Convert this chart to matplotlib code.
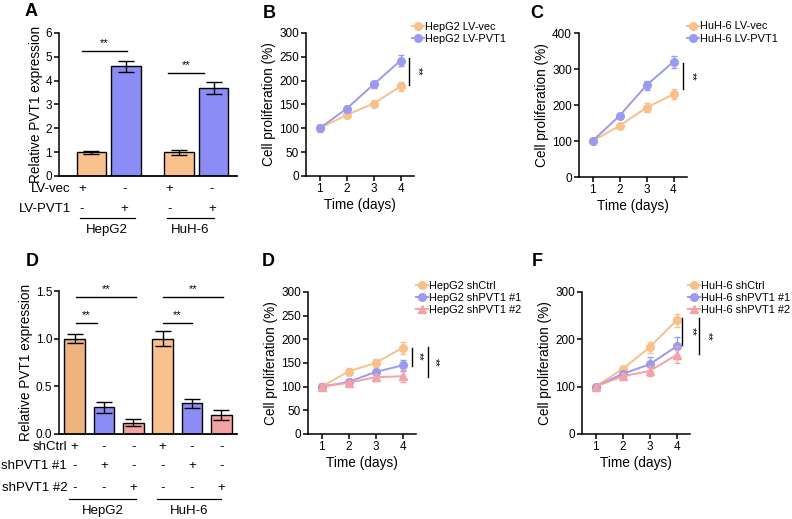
import matplotlib
matplotlib.use('Agg')
import matplotlib.pyplot as plt
import matplotlib.transforms as mtransforms

plt.rcParams['font.family'] = ['Liberation Sans', 'DejaVu Sans']
plt.rcParams['axes.linewidth'] = 1.1
plt.rcParams['xtick.major.width'] = 1.1
plt.rcParams['ytick.major.width'] = 1.1
plt.rcParams['xtick.major.size'] = 3.5
plt.rcParams['ytick.major.size'] = 3.5
plt.rcParams['xtick.labelsize'] = 8.5
plt.rcParams['ytick.labelsize'] = 8.5

# ---- data ----
# panel A: overexpression qPCR
a_values = [1.0, 4.6, 1.0, 3.7]
a_errors = [0.06, 0.22, 0.10, 0.24]
a_vec = ['+', '-', '+', '-']
a_pvt1 = ['-', '+', '-', '+']
groups = ['HepG2', 'HuH-6']

# panel D (left): knockdown qPCR
d_values = [1.0, 0.28, 0.12, 1.0, 0.32, 0.20]
d_errors = [0.05, 0.06, 0.04, 0.08, 0.05, 0.05]
d_ctrl = ['+', '-', '-', '+', '-', '-']
d_sh1 = ['-', '+', '-', '-', '+', '-']
d_sh2 = ['-', '-', '+', '-', '-', '+']

days = [1, 2, 3, 4]
# panel B
b_vec = [100, 128, 152, 188]
b_vec_err = [8, 5, 7, 9]
b_pvt1 = [100, 141, 192, 242]
b_pvt1_err = [6, 6, 8, 12]
# panel C
c_vec = [100, 142, 193, 230]
c_vec_err = [5, 5, 13, 14]
c_pvt1 = [100, 170, 255, 320]
c_pvt1_err = [4, 5, 12, 17]
# panel D (middle)
e_ctrl = [100, 132, 150, 182]
e_ctrl_err = [7, 8, 9, 12]
e_sh1 = [100, 110, 131, 145]
e_sh1_err = [5, 6, 6, 12]
e_sh2 = [100, 108, 120, 122]
e_sh2_err = [5, 5, 7, 13]
# panel F
f_ctrl = [100, 137, 183, 240]
f_ctrl_err = [4, 4, 12, 14]
f_sh1 = [100, 127, 147, 185]
f_sh1_err = [4, 4, 15, 20]
f_sh2 = [100, 122, 133, 167]
f_sh2_err = [4, 6, 10, 18]

ORANGE = '#F9C28C'
ORANGE_D = '#EFB47E'
BLUE = '#8C8CF7'
PINK = '#F4A3A3'
L_ORANGE = '#F9C08A'
L_BLUE = '#9A9AF2'
L_PINK = '#F4A2A8'

LAB = 9.8   # axis label size
ROW = 9.5   # +/- row text size

W, H = 792, 519
fig = plt.figure(figsize=(W / 100, H / 100), dpi=100)


def add_ax(x0, y0, x1, y1):
    # pixel box (top-left origin) -> figure fraction
    ax = fig.add_axes([x0 / W, 1 - y1 / H, (x1 - x0) / W, (y1 - y0) / H])
    ax.spines['top'].set_visible(False)
    ax.spines['right'].set_visible(False)
    ax.tick_params(direction='out', pad=1.5)
    return ax


def sig_h(ax, x0, x1, y, dy):
    ax.plot([x0, x1], [y, y], color='black', lw=1, clip_on=False)
    ax.text((x0 + x1) / 2, y + dy, '**', ha='center', va='bottom', fontsize=8)


def sig_v(ax, x, y0, y1, xt):
    ax.plot([x, x], [y0, y1], color='black', lw=1, clip_on=False)
    ax.text(xt, (y0 + y1) / 2, '**', ha='center', va='center', fontsize=8,
            rotation=-90, clip_on=False)


# ---------- A ----------
ax = add_ax(59, 33, 237, 176)
pos_a = [0, 1, 2.54, 3.54]
ax.bar(pos_a, a_values, width=0.85, color=[ORANGE, BLUE, ORANGE, BLUE],
       edgecolor='black', linewidth=1)
ax.errorbar(pos_a, a_values, yerr=a_errors, fmt='none', ecolor='black',
            elinewidth=1, capsize=6, capthick=1)
ax.set_xlim(-0.94, 4.22)
ax.set_ylim(0, 6)
ax.set_yticks(range(0, 7))
ax.set_xticks([])
ax.spines['bottom'].set_linewidth(1.3)
ax.set_ylabel('Relative PVT1 expression', fontsize=LAB, labelpad=2)
sig_h(ax, -0.28, 1.02, 5.25, 0.12)
sig_h(ax, 2.22, 3.26, 4.33, 0.12)
tr = mtransforms.blended_transform_factory(ax.transData, ax.transAxes)
sign_x = [p - 0.28 if i % 2 == 0 else p - 0.05 for i, p in enumerate(pos_a)]
for rowy, lab, signs in [(-0.09, 'LV-vec', a_vec), (-0.23, 'LV-PVT1', a_pvt1)]:
    ax.text(-0.6, rowy, lab, transform=tr, ha='right', va='center', fontsize=ROW)
    for sx, s in zip(sign_x, signs):
        ax.text(sx, rowy, s, transform=tr, ha='center', va='center', fontsize=ROW)
for (x0, x1), g in zip([(-0.34, 1.26), (2.2, 3.55)], groups):
    ax.plot([x0, x1], [-0.295, -0.295], transform=tr, color='black', lw=0.9,
            clip_on=False)
    ax.text((x0 + x1) / 2, -0.375, g, transform=tr, ha='center', va='center',
            fontsize=ROW)
fig.text(31 / W, 1 - 12 / H, 'A', fontsize=13, fontweight='bold', ha='center',
         va='center')


def line_panel(box, series, ylim, ystep, sigs, legend_xy, letter, letter_xy):
    ax = add_ax(*box)
    for vals, errs, col, mk, lab in series:
        ax.errorbar(days, vals, yerr=errs, fmt='none', ecolor=col,
                    elinewidth=1, capsize=2.5, capthick=1)
        ax.plot(days, vals, color=col, marker=mk, markersize=5.5, lw=1.4,
                label=lab)
    ax.set_xlim(0.5, 4.5)
    ax.set_ylim(*ylim)
    ax.set_yticks(range(ylim[0], ylim[1] + 1, ystep))
    ax.set_xticks(days)
    ax.set_xlabel('Time (days)', fontsize=LAB, labelpad=2)
    ax.set_ylabel('Cell proliferation (%)', fontsize=LAB, labelpad=2)
    for x, y0, y1, xt in sigs:
        sig_v(ax, x, y0, y1, xt)
    ax.legend(loc='upper left', bbox_to_anchor=legend_xy, frameon=False,
              fontsize=7.9, handlelength=1.1, handletextpad=0.1,
              labelspacing=0.2, borderaxespad=0, borderpad=0)
    fig.text(letter_xy[0] / W, 1 - letter_xy[1] / H, letter, fontsize=13,
             fontweight='bold', ha='center', va='center')
    return ax


line_panel((306, 33, 414, 176),
           [(b_vec, b_vec_err, L_ORANGE, 'o', 'HepG2 LV-vec'),
            (b_pvt1, b_pvt1_err, L_BLUE, 'o', 'HepG2 LV-PVT1')],
           (0, 300), 50, [(4.33, 191, 247, 4.63)], (0.98, 1.08), 'B', (269, 14))

line_panel((579, 33, 687, 177),
           [(c_vec, c_vec_err, L_ORANGE, 'o', 'HuH-6 LV-vec'),
            (c_pvt1, c_pvt1_err, L_BLUE, 'o', 'HuH-6 LV-PVT1')],
           (0, 400), 100, [(4.34, 244, 317, 4.67)], (1.0, 1.08), 'C', (537, 14))

# ---------- D (left) ----------
ax = add_ax(59, 291, 237, 434)
pos_d = list(range(6))
ax.bar(pos_d, d_values, width=0.7,
       color=[ORANGE_D, BLUE, PINK, ORANGE, BLUE, PINK],
       edgecolor='black', linewidth=1)
ax.errorbar(pos_d, d_values, yerr=d_errors, fmt='none', ecolor='black',
            elinewidth=1, capsize=6, capthick=1)
ax.set_xlim(-0.53, 5.53)
ax.set_ylim(0, 1.5)
ax.set_yticks([0, 0.5, 1.0, 1.5])
ax.set_yticklabels(['0.0', '0.5', '1.0', '1.5'])
ax.set_xticks([])
ax.spines['bottom'].set_linewidth(1.3)
ax.set_ylabel('Relative PVT1 expression', fontsize=LAB, labelpad=2)
sig_h(ax, 0.05, 2.1, 1.44, 0.03)
sig_h(ax, 0.05, 0.77, 1.165, 0.03)
sig_h(ax, 3.0, 5.05, 1.44, 0.03)
sig_h(ax, 3.0, 4.0, 1.165, 0.03)
tr = mtransforms.blended_transform_factory(ax.transData, ax.transAxes)
for rowy, lab, signs in [(-0.09, 'shCtrl', d_ctrl), (-0.225, 'shPVT1 #1', d_sh1),
                         (-0.375, 'shPVT1 #2', d_sh2)]:
    ax.text(-0.25, rowy, lab, transform=tr, ha='right', va='center', fontsize=ROW)
    for sx, s in zip(pos_d, signs):
        ax.text(sx, rowy, s, transform=tr, ha='center', va='center', fontsize=ROW)
for (x0, x1), g in zip([(-0.2, 2.1), (2.8, 5.0)], groups):
    ax.plot([x0, x1], [-0.455, -0.455], transform=tr, color='black', lw=0.9,
            clip_on=False)
    ax.text((x0 + x1) / 2, -0.535, g, transform=tr, ha='center', va='center',
            fontsize=ROW)
fig.text(32 / W, 1 - 262 / H, 'D', fontsize=13, fontweight='bold', ha='center',
         va='center')

line_panel((308, 292, 416, 434),
           [(e_ctrl, e_ctrl_err, L_ORANGE, 'o', 'HepG2 shCtrl'),
            (e_sh1, e_sh1_err, L_BLUE, 'o', 'HepG2 shPVT1 #1'),
            (e_sh2, e_sh2_err, L_PINK, '^', 'HepG2 shPVT1 #2')],
           (0, 300), 50, [(4.34, 144, 182, 4.6), (4.94, 120, 184, 5.2)],
           (1.0, 1.08), 'D', (268, 262))

line_panel((582, 292, 690, 434),
           [(f_ctrl, f_ctrl_err, L_ORANGE, 'o', 'HuH-6 shCtrl'),
            (f_sh1, f_sh1_err, L_BLUE, 'o', 'HuH-6 shPVT1 #1'),
            (f_sh2, f_sh2_err, L_PINK, '^', 'HuH-6 shPVT1 #2')],
           (0, 300), 100, [(4.22, 188, 245, 4.55), (4.85, 169, 245, 5.15)],
           (0.98, 1.08), 'F', (537, 262))

fig.savefig('out.png', dpi=100)
